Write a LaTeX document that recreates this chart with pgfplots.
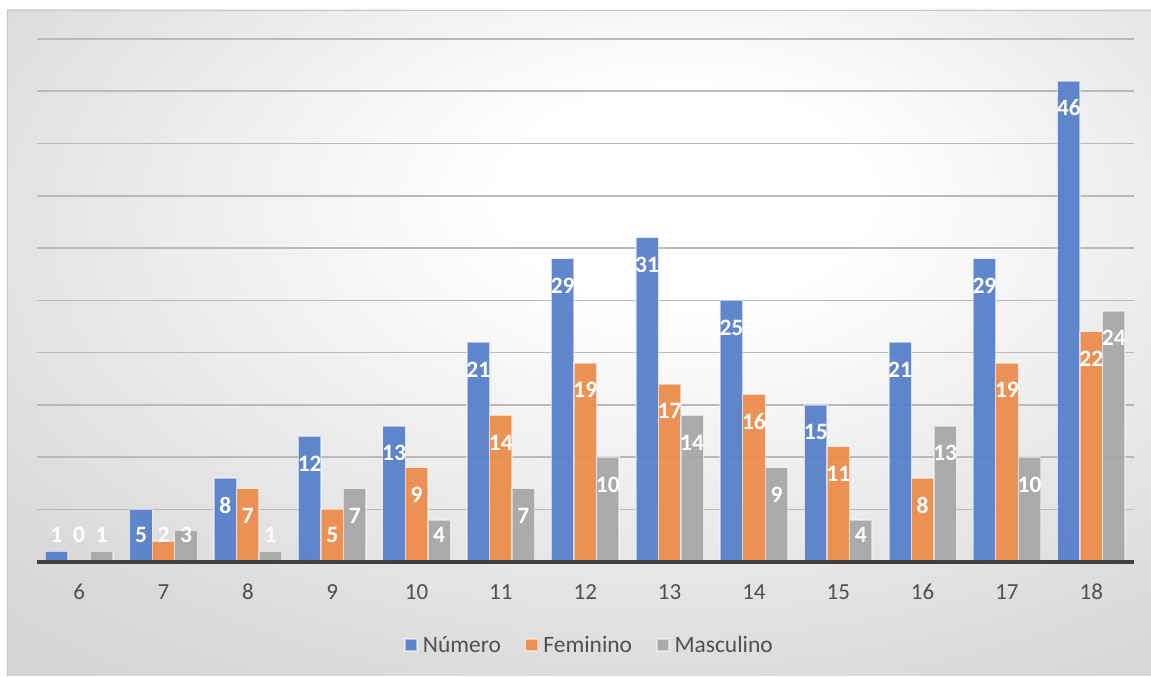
\documentclass[border=0pt]{standalone}
\usepackage{pgfplots}
\usepackage{pgfplotstable}
\pgfplotsset{compat=1.18}
\usepackage{fontspec}
\setmainfont{Carlito}

\definecolor{cNum}{RGB}{88,128,202}
\definecolor{cFem}{RGB}{237,141,76}
\definecolor{cMas}{RGB}{168,168,168}
\definecolor{txt}{RGB}{80,80,80}
\definecolor{gridc}{RGB}{186,186,186}
\definecolor{basec}{RGB}{64,64,64}
\definecolor{bgmid}{RGB}{218,218,218}
\definecolor{bgedge}{RGB}{194,194,194}

% soft radial backdrop, brightest slightly above and right of centre
\pgfdeclareradialshading{chartbg}{\pgfpoint{5bp}{12bp}}{%
  color(0bp)=(white); color(8bp)=(white); color(35bp)=(bgmid); color(62bp)=(bgedge); color(100bp)=(bgedge)}

% ages, total, female, male
\pgfplotstableread{
age v
6  1
7  5
8  8
9  12
10 13
11 21
12 29
13 31
14 25
15 15
16 21
17 29
18 46
}\tabNum
\pgfplotstableread{
age v
6  0
7  2
8  7
9  5
10 9
11 14
12 19
13 17
14 16
15 11
16 8
17 19
18 22
}\tabFem
\pgfplotstableread{
age v
6  1
7  3
8  1
9  7
10 4
11 7
12 10
13 14
14 9
15 4
16 13
17 10
18 24
}\tabMas

\begin{document}
\begin{tikzpicture}
\fill[white] (0pt,0pt) rectangle (1151pt,676pt);
\shade[shading=chartbg] (7pt,0pt) rectangle (1151pt,666pt);
\draw[black!22, line width=1pt] (7.5pt,0pt) -- (7.5pt,665.5pt) -- (1151pt,665.5pt);

\begin{axis}[
  at={(37pt,114pt)}, anchor=south west,
  scale only axis, width=1097pt, height=523pt,
  xmin=-0.5, xmax=12.5, ymin=0, ymax=50,
  enlargelimits=false,
  axis line style={draw=none},
  tick style={draw=none},
  xtick={0,...,12},
  xticklabels={6,7,8,9,10,11,12,13,14,15,16,17,18},
  xticklabel style={anchor=base, yshift=-38pt, font=\fontsize{23}{26}\selectfont, text=txt},
  ytick={5,10,...,50}, yticklabels={},
  ymajorgrids, major grid style={gridc, line width=1.6pt},
  /pgf/number format/assume math mode=true,
  legend columns=3,
  legend style={at={(0.504,-0.159)}, anchor=center, draw=none, fill=none,
    font=\fontsize{23.5}{26}\selectfont, text=txt,
    /tikz/every odd column/.append style={column sep=3pt},
    /tikz/every even column/.append style={column sep=22pt}},
  legend image code/.code={\fill[#1] (0pt,-6pt) rectangle (12pt,6pt);},
  clip=false,
]
\addplot[ybar, bar width=0.267, bar shift=-0.267, fill=cNum, fill opacity=0.95,
  draw=white, draw opacity=0.5, line width=1.4pt]
  table[x expr=\coordindex, y=v]{\tabNum};
\addplot[ybar, bar width=0.267, bar shift=0, fill=cFem, fill opacity=0.95,
  draw=white, draw opacity=0.5, line width=1.4pt]
  table[x expr=\coordindex, y=v]{\tabFem};
\addplot[ybar, bar width=0.267, bar shift=0.267, fill=cMas, fill opacity=0.95,
  draw=white, draw opacity=0.5, line width=1.4pt]
  table[x expr=\coordindex, y=v]{\tabMas};
\legend{Número, Feminino, Masculino}

% value labels: just inside the top of each bar, lifted above the base for short bars
\pgfplotsset{lab/.style={draw=none, mark=none, forget plot,
  nodes near coords, point meta=explicit,
  nodes near coords style={anchor=center, text=white,
    font=\fontsize{23.5}{26}\selectfont\bfseries}}}
\addplot[lab] table[x expr=\coordindex-0.267, y expr={max(\thisrow{v}-2.6,2.6)}, meta=v]{\tabNum};
\addplot[lab] table[x expr=\coordindex, y expr={max(\thisrow{v}-2.6,2.6)}, meta=v]{\tabFem};
\addplot[lab] table[x expr=\coordindex+0.267, y expr={max(\thisrow{v}-2.6,2.6)}, meta=v]{\tabMas};

\draw[basec, line width=4pt] (axis cs:-0.5,0) -- (axis cs:12.5,0);
\end{axis}
\end{tikzpicture}
\end{document}
